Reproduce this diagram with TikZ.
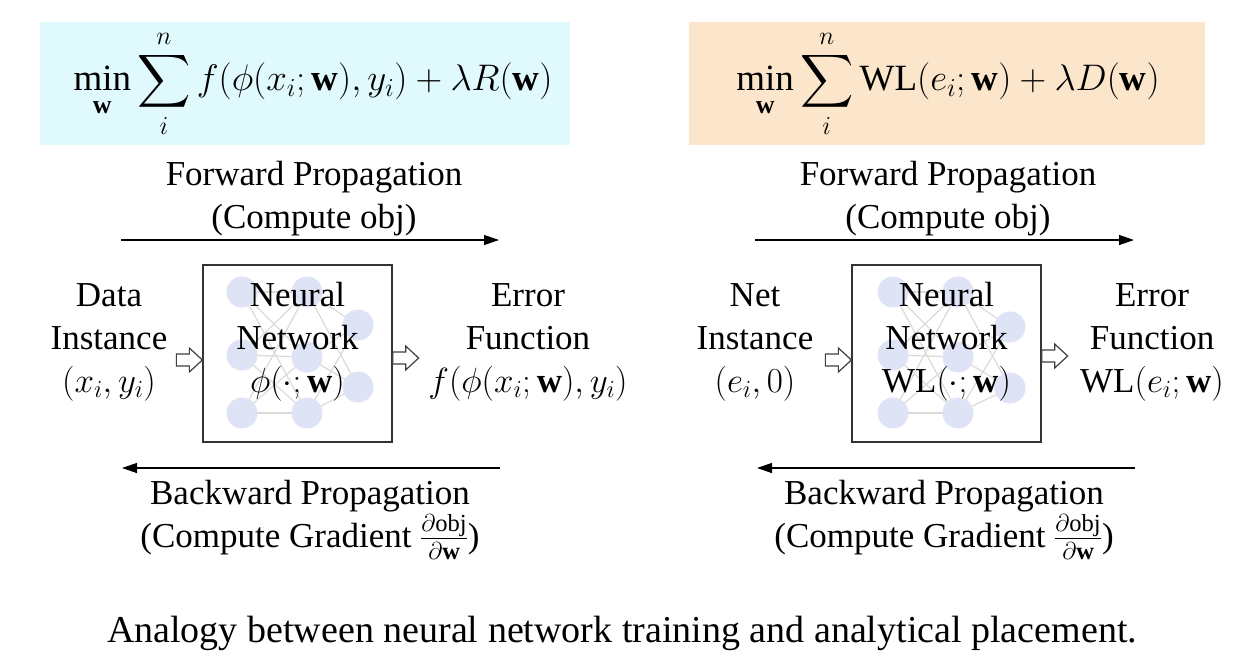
\RequirePackage{fix-cm}
\documentclass[tikz,border=0pt]{standalone}
\usepackage{fontspec}
\setmainfont{Liberation Serif}
\usepackage{amsmath}
\DeclareFontShape{OMX}{cmex}{m}{n}{<-> cmex10}{}
\usetikzlibrary{arrows.meta}
\definecolor{cyanbox}{RGB}{224,249,253}
\definecolor{peachbox}{RGB}{251,230,203}
\definecolor{nnode}{RGB}{223,227,246}
\definecolor{nedge}{RGB}{218,218,218}
\tikzset{
  lbl/.style={font=\fontsize{35}{43}\selectfont, align=center, inner sep=0pt},
  nnbox/.style={draw=black!80, line width=1.3pt, minimum width=189pt, minimum height=177pt, inner sep=0pt},
  neuron/.style={circle, fill=nnode, minimum size=31pt, inner sep=0pt},
  prop/.style={line width=1.3pt, -{Triangle[length=15pt,width=10pt]}},
  formbox/.style={inner sep=0pt, minimum height=123pt},
  hollowarrow/.pic={\draw[black!75, fill=white, line width=1.2pt, line join=miter]
     (-26,-6) -- (-13,-6) -- (-13,-12) -- (0,0) -- (-13,12) -- (-13,6) -- (-26,6) -- cycle;},
}
\begin{document}
\begin{tikzpicture}[x=1pt,y=-1pt]
\useasboundingbox (0,0) rectangle (1244,659);
% formula boxes
\node[formbox, fill=cyanbox, minimum width=530pt] (fl) at (305,83) {};
\node[font=\fontsize{37}{44}\selectfont, inner sep=0pt] (fml) at (313,84) {$\displaystyle\min_{\mathbf{w}}\sum_{i}^{n} f(\phi(x_i;\mathbf{w}),y_i)+\lambda R(\mathbf{w})$};
\node[formbox, fill=peachbox, minimum width=516pt] (fr) at (947,83) {};
\node[font=\fontsize{37}{44}\selectfont, inner sep=0pt] (fmr) at (948,84) {$\displaystyle\min_{\mathbf{w}}\sum_{i}^{n} \mathrm{WL}(e_i;\mathbf{w})+\lambda D(\mathbf{w})$};

% ===== left panel =====
\node[lbl] (fwl) at (314,199) {Forward Propagation\\(Compute obj)};
\coordinate (fla) at (121,240);
\coordinate (flb) at (499,240);
\draw[prop] (fla) -- (flb);

% neural network drawing
\foreach \n/\x/\y in {a/242/292,b/242/355,c/242/413,d/307/292,e/307/357,f/307/413,g/358/325,h/358/387}{
  \coordinate (L\n) at (\x,\y);
}
\foreach \s in {a,b,c}{\foreach \t in {d,e,f}{\draw[nedge, line width=1.2pt] (L\s) -- (L\t);}}
\foreach \s in {d,e,f}{\foreach \t in {g,h}{\draw[nedge, line width=1.2pt] (L\s) -- (L\t);}}
\foreach \n in {a,b,c,d,e,f,g,h}{\node[neuron] (nL\n) at (L\n) {};}
\node[nnbox] (boxl) at (297.5,353.5) {};
\node[lbl] (nnl) at (297.5,342) {Neural\\Network\\$\phi(\cdot;\mathbf{w})$};

\node[lbl] (inl) at (109,342) {Data\\Instance\\$(x_i,y_i)$};
\node[lbl] (erl) at (528,342) {Error\\Function\\$f(\phi(x_i;\mathbf{w}),y_i)$};
\pic at (boxl.west |- 0,360) {hollowarrow};
\pic at ([xshift=26pt]boxl.east |- 0,358) {hollowarrow};

\coordinate (bla) at (500,468);
\coordinate (blb) at (122,468);
\draw[prop] (bla) -- (blb);
\node[lbl] (bwl) at (310,520) {Backward Propagation\\(Compute Gradient $\frac{\partial\mathrm{obj}}{\partial\mathbf{w}}$)};

% ===== right panel =====
\node[lbl] (fwr) at (948,199) {Forward Propagation\\(Compute obj)};
\coordinate (fra) at (755,240);
\coordinate (frb) at (1134,240);
\draw[prop] (fra) -- (frb);

\foreach \n/\x/\y in {a/893/292,b/893/355,c/893/413,d/958/292,e/958/357,f/958/413,g/1010/327,h/1010/388}{
  \coordinate (R\n) at (\x,\y);
}
\foreach \s in {a,b,c}{\foreach \t in {d,e,f}{\draw[nedge, line width=1.2pt] (R\s) -- (R\t);}}
\foreach \s in {d,e,f}{\foreach \t in {g,h}{\draw[nedge, line width=1.2pt] (R\s) -- (R\t);}}
\foreach \n in {a,b,c,d,e,f,g,h}{\node[neuron] (nR\n) at (R\n) {};}
\node[nnbox] (boxr) at (946.5,353.5) {};
\node[lbl] (nnr) at (946.5,342) {Neural\\Network\\$\mathrm{WL}(\cdot;\mathbf{w})$};

\node[lbl] (inr) at (755,342) {Net\\Instance\\$(e_i,0)$};
\node[lbl] (err) at (1152,342) {Error\\Function\\$\mathrm{WL}(e_i;\mathbf{w})$};
\pic at (boxr.west |- 0,360) {hollowarrow};
\pic at ([xshift=26pt]boxr.east |- 0,356) {hollowarrow};

\coordinate (bra) at (1135,468);
\coordinate (brb) at (757,468);
\draw[prop] (bra) -- (brb);
\node[lbl] (bwr) at (944,520) {Backward Propagation\\(Compute Gradient $\frac{\partial\mathrm{obj}}{\partial\mathbf{w}}$)};

% caption
\node[font=\fontsize{38}{44}\selectfont, inner sep=0pt] (cap) at (622,633) {Analogy between neural network training and analytical placement.};
\end{tikzpicture}
\end{document}
